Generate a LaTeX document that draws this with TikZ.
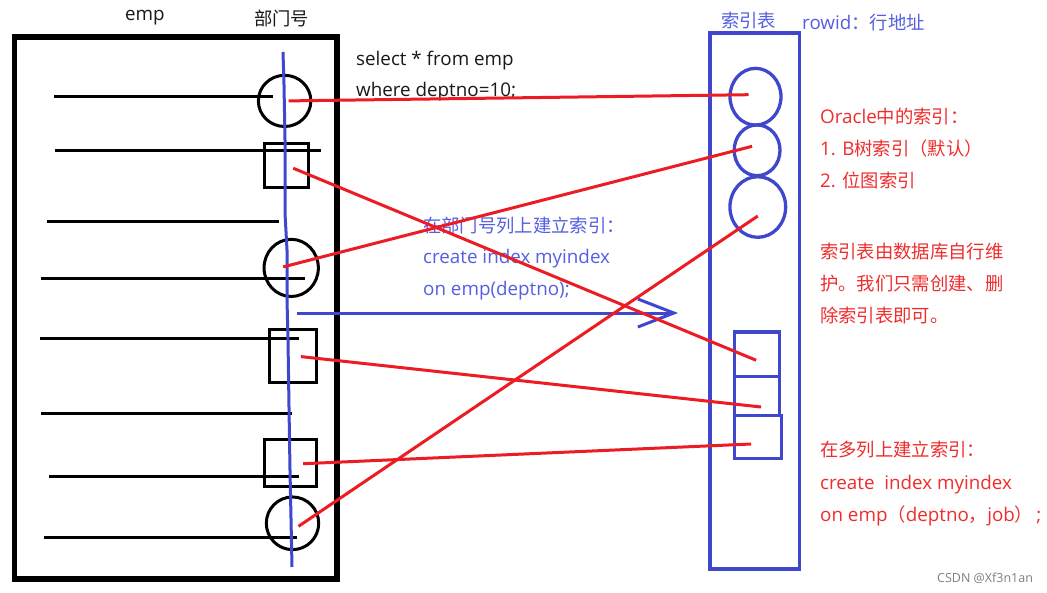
\documentclass[tikz,border=0pt]{standalone}
\usepackage{fontspec}
\setmainfont{Open Sans}
\newfontfamily\cjk[Scale=0.975]{Noto Sans CJK SC}
\usetikzlibrary{shapes.geometric,arrows.meta}
\definecolor{pblue}{RGB}{63,72,204}
\definecolor{pred}{RGB}{237,28,36}
\definecolor{tblue}{RGB}{85,95,225}
\definecolor{tred}{RGB}{240,45,45}
\definecolor{tblack}{RGB}{25,25,25}
\begin{document}
\begin{tikzpicture}[x=1pt,y=-1pt,
  rowline/.style={line width=3pt, black},
  ecirc/.style={ellipse, draw=black, line width=3pt, inner sep=0pt},
  esq/.style={rectangle, draw=black, line width=3pt, inner sep=0pt},
  icirc/.style={ellipse, draw=pblue, line width=3.3pt, inner sep=0pt},
  isq/.style={rectangle, draw=pblue, line width=3.2pt, inner sep=0pt},
  redlink/.style={draw=pred, line width=3pt},
  lbl/.style={inner sep=0pt, anchor=base west, font=\fontsize{18.8}{22}\selectfont}
]
\useasboundingbox[fill=white] (0,0) rectangle (1047,592);

% emp table
\node[draw=black, line width=5.5pt, inner sep=0pt, minimum width=322.5pt, minimum height=542pt] (emp) at (175.75,308) {};
\node[lbl, tblack] (empl) at (125,20) {emp};
\node[lbl, tblack] (dept) at (254,25) {{\cjk 部门号}};

% rows
\draw[rowline] (54,96) -- (273,96);
\draw[rowline] (55,150) -- (321,150);
\draw[rowline] (47,221) -- (279,221);
\draw[rowline] (41,278) -- (305,278);
\draw[rowline] (40,338) -- (299,338);
\draw[rowline] (41,413) -- (292,413);
\draw[rowline] (49,476) -- (299,476);
\draw[rowline] (44,537) -- (297,537);

% emp shapes
\node[ecirc, minimum width=52.5pt, minimum height=51.2pt] (ec1) at (284.6,100.9) {};
\node[esq, minimum width=44pt, minimum height=44.3pt] (es1) at (286.25,165.2) {};
\node[ecirc, minimum width=54.3pt, minimum height=57.2pt] (ec2) at (291.2,267.9) {};
\node[esq, minimum width=47.8pt, minimum height=52.8pt] (es2) at (292.9,355.6) {};
\node[esq, minimum width=51.8pt, minimum height=47pt] (es3) at (290.1,462.7) {};
\node[ecirc, minimum width=52.4pt, minimum height=52.7pt] (ec3) at (292.5,523.3) {};

% blue column line
\draw[pblue, line width=3pt] (283,52) -- (284,85) -- (285,140) -- (285,213) -- (287,250) -- (287,300) -- (288,340) -- (289,407) -- (290,470) -- (292,567);

% index table
\node[draw=pblue, line width=3.7pt, inner sep=0pt, minimum width=89.8pt, minimum height=535.4pt] (itab) at (754.6,301) {};
\node[lbl, tblue] (itabl) at (721,27) {{\cjk 索引表}};
\node[lbl, tblue] (rowid) at (802,29) {rowid{\cjk ：行地址}};

\node[icirc, minimum width=51pt, minimum height=56.7pt] (ic1) at (755.5,96.7) {};
\node[icirc, minimum width=45.8pt, minimum height=50.7pt] (ic2) at (757.1,150.3) {};
\node[icirc, minimum width=55.7pt, minimum height=60.6pt] (ic3) at (757.8,207) {};
\node[isq, minimum width=44.8pt, minimum height=44.5pt] (is1) at (757.1,354.25) {};
\node[isq, minimum width=44.8pt, minimum height=39pt] (is2) at (757.1,396) {};
\node[isq, minimum width=46.8pt, minimum height=42.8pt] (is3) at (758.1,437) {};

% texts
\node[lbl, tblack] (sql1) at (356,65) {select * from emp};
\node[lbl, tblack] (sql2) at (356,96) {where deptno=10;};
\node[lbl, tblue] (b1) at (423,232) {{\cjk 在部门号列上建立索引：}};
\node[lbl, tblue] (b2) at (423,263) {create index myindex};
\node[lbl, tblue] (b3) at (423,295) {on emp(deptno);};

\node[lbl, tred] (r1) at (820,123) {Oracle{\cjk 中的索引：}};
\node[lbl, tred] (r2) at (820,155) {1. B{\cjk 树索引（默认）}};
\node[lbl, tred] (r3) at (820,187) {2. {\cjk 位图索引}};
\node[lbl, tred] (r4) at (820,258) {{\cjk 索引表由数据库自行维}};
\node[lbl, tred] (r5) at (820,290) {{\cjk 护。我们只需创建、删}};
\node[lbl, tred] (r6) at (820,322) {{\cjk 除索引表即可。}};
\node[lbl, tred] (r7) at (820,456) {{\cjk 在多列上建立索引：}};
\node[lbl, tred] (r8) at (820,489) {create\ \ index myindex};
\node[lbl, tred] (r9) at (820,521) {on emp{\cjk （}deptno{\cjk ，}job{\cjk ）}\,;};

\node[inner sep=0pt, anchor=base west, font=\fontsize{12.5}{12.5}\selectfont, text=gray] (wm) at (937,582) {CSDN @Xf3n1an};

% blue arrow
\coordinate (arrS) at (297,313);
\coordinate (arrE) at (678,313);
\draw[pblue, line width=3pt, -{Straight Barb[length=36pt, width=28pt, line width=3pt]}] (arrS) -- (arrE);

% red links
\draw[redlink] ([shift={(4,0)}]ec1.center) -- ([shift={(-7,-2)}]ic1.center);
\draw[redlink] ([shift={(7,3)}]es1.center) -- ([shift={(-1,6)}]is1.center);
\draw[redlink] ([shift={(-8,-1)}]ec2.center) -- ([shift={(-5,-4)}]ic2.center);
\draw[redlink] ([shift={(8,1)}]es2.center) -- ([shift={(4,11)}]is2.center);
\draw[redlink] ([shift={(13,1)}]es3.center) -- ([shift={(-7,7)}]is3.center);
\draw[redlink] ([shift={(6,3)}]ec3.center) -- ([shift={(0,9)}]ic3.center);
\end{tikzpicture}
\end{document}
